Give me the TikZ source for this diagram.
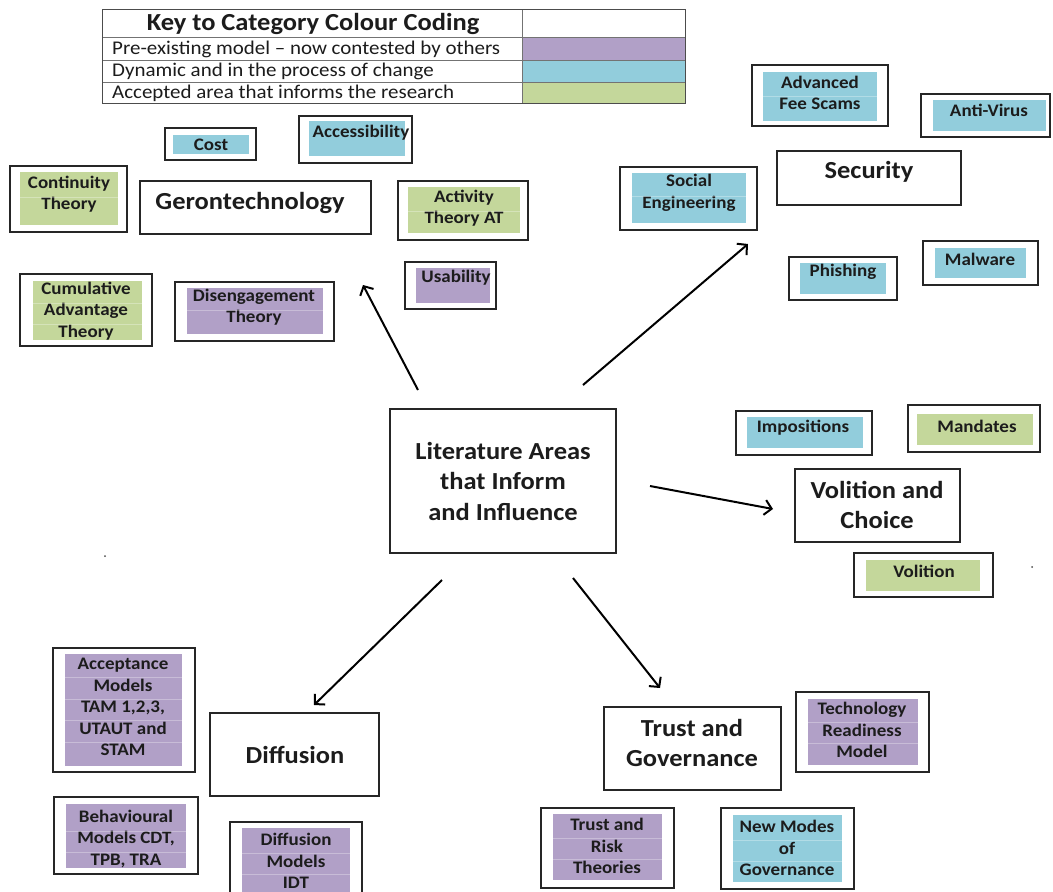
\documentclass[tikz,border=0pt]{standalone}
\usepackage{fontspec}
\setmainfont{Carlito}[FakeStretch=1.08]
\usetikzlibrary{arrows.meta,fit}

\definecolor{catpurple}{HTML}{B1A0C7}
\definecolor{catblue}{HTML}{92CDDC}
\definecolor{catgreen}{HTML}{C4D79B}
\definecolor{inkdark}{HTML}{1C1C1C}

\tikzset{
  frame/.style={draw=black!85, line width=1.3pt, fill=white, inner sep=0pt},
  cell/.style={draw=none, inner sep=0pt},
  rowsep/.style={draw=white, opacity=0.3, line width=0.8pt},
  smalltxt/.style={font=\bfseries\fontsize{17.6}{21.5}\selectfont, align=center, text=inkdark, inner sep=0pt},
  maintxt/.style={font=\bfseries\fontsize{24.5}{30}\selectfont, align=center, text=inkdark, inner sep=0pt},
  midtxt/.style={font=\bfseries\fontsize{24.5}{30.5}\selectfont, align=center, text=inkdark, inner sep=0pt},
  keyhead/.style={font=\bfseries\fontsize{24.5}{26}\selectfont, text=inkdark, inner sep=0pt},
  keyrow/.style={font=\fontsize{19.4}{21}\selectfont, text=inkdark, inner sep=0pt, anchor=west},
  keyline/.style={draw=black!55, line width=0.8pt},
  link/.style={line width=2pt, -{Straight Barb[length=7pt, width=15pt, line width=2pt]}},
}

% #1 name, #2/#3 frame corners, #4/#5 fill corners, #6 colour, #7 text centre, #8 text
\newcommand\catbox[8]{%
  \node[frame, fit={#2 #3}] (#1) {};
  \node[cell, fill=#6, fit={#4 #5}] (#1-in) {};
  \node[smalltxt] (#1-txt) at #7 {#8};
}
% faint cell rules between the text rows of a category box (offsets below the text centre)
\newcommand\rowseps[2]{%
  \foreach \d in {#2} {%
    \coordinate (#1-sep) at ([yshift={-(\d+3)*1pt}]#1-txt.center);
    \draw[rowsep] (#1-sep -| #1-in.west) -- (#1-sep -| #1-in.east);
  }%
}
% #1 name, #2/#3 corners, #4 style, #5 text centre, #6 text
\newcommand\areabox[6]{%
  \node[frame, fit={#2 #3}] (#1) {};
  \node[#4] (#1-txt) at #5 {#6};
}

\begin{document}
\begin{tikzpicture}[x=1pt, y=-1pt]
\useasboundingbox (0,0) rectangle (1053,892);
\clip (0,0) rectangle (1053,892);
\fill[white] (0,0) rectangle (1053,892);

% ---- colour key table ----
\node[cell, fit={(103,10) (522,37)}] (khead) {};
\node[cell, fill=white, fit={(522,10) (685,37)}] (kheadc) {};
\node[cell, fit={(103,37) (522,60)}] (k1) {};
\node[cell, fill=catpurple, fit={(522,37) (685,60)}] (k1c) {};
\node[cell, fit={(103,60) (522,82)}] (k2) {};
\node[cell, fill=catblue, fit={(522,60) (685,82)}] (k2c) {};
\node[cell, fit={(103,82) (522,103)}] (k3) {};
\node[cell, fill=catgreen, fit={(522,82) (685,103)}] (k3c) {};
\draw[keyline] (khead.south west) -- (kheadc.south east);
\draw[keyline] (k1.south west) -- (k1c.south east);
\draw[keyline] (k2.south west) -- (k2c.south east);
\draw[keyline] (khead.north east) -- (k3.south east);
\draw[draw=black!70, line width=1pt] (khead.north west) rectangle (k3c.south east);
\node[keyhead] (kheadt) at (313,24) {Key to Category Colour Coding};
\node[keyrow] (k1t) at (112,49) {Pre-existing model -- now contested by others};
\node[keyrow] (k2t) at (112,71) {Dynamic and in the process of change};
\node[keyrow] (k3t) at (112,93) {Accepted area that informs the research};

% ---- central topic ----
\areabox{centre}{(390,409)}{(616,553)}{midtxt}{(503,481)}{Literature Areas\\that Inform\\and Influence}

% ---- Gerontechnology ----
\areabox{geron}{(140,181)}{(371,234)}{maintxt}{(250,203)}{Gerontechnology}
\catbox{cost}{(165,128)}{(256,160)}{(173,135)}{(249,154)}{catblue}{(211,145)}{Cost}
\catbox{access}{(299,116)}{(412,163)}{(309,121)}{(405,156)}{catblue}{(361,133)}{Accessibility}
\catbox{contin}{(10,166)}{(127,232)}{(20,172)}{(118,225)}{catgreen}{(69,194)}{Continuity\\Theory}
\catbox{activ}{(398,181)}{(528,240)}{(408,187)}{(520,233)}{catgreen}{(464,208)}{Activity\\Theory AT}
\catbox{usab}{(405,262)}{(496,309)}{(416,268)}{(490,303)}{catpurple}{(456,278)}{Usability}
\catbox{cumul}{(20,274)}{(152,346)}{(33,281)}{(142,340)}{catgreen}{(86,311)}{Cumulative\\Advantage\\Theory}
\catbox{diseng}{(175,282)}{(334,341)}{(187,288)}{(323,334)}{catpurple}{(254,307)}{Disengagement\\Theory}
\rowseps{contin}{0}
\rowseps{activ}{0}
\rowseps{cumul}{-10.75,10.75}
\rowseps{diseng}{0}

% ---- Security ----
\areabox{secur}{(777,151)}{(961,205)}{maintxt}{(869,172)}{Security}
\catbox{afs}{(752,65)}{(888,126)}{(763,72)}{(877,121)}{catblue}{(820,93)}{Advanced\\Fee Scams}
\catbox{antiv}{(921,94)}{(1050,137)}{(933,100)}{(1046,131)}{catblue}{(989,110)}{Anti-Virus}
\catbox{social}{(620,167)}{(757,230)}{(632,173)}{(746,223)}{catblue}{(689,193)}{Social\\Engineering}
\catbox{phish}{(789,257)}{(897,300)}{(800,263)}{(886,294)}{catblue}{(843,272)}{Phishing}
\catbox{malw}{(923,241)}{(1038,285)}{(935,248)}{(1026,278)}{catblue}{(980,259)}{Malware}
\rowseps{afs}{0}
\rowseps{social}{0}

% ---- Volition and Choice ----
\areabox{volit}{(795,469)}{(960,542)}{midtxt}{(877,505)}{Volition and\\Choice}
\catbox{impos}{(736,411)}{(872,455)}{(747,417)}{(863,448)}{catblue}{(803,428)}{Impositions}
\catbox{mand}{(908,405)}{(1040,452)}{(917,414)}{(1033,445)}{catgreen}{(977,426)}{Mandates}
\catbox{volsub}{(854,553)}{(993,597)}{(866,560)}{(980,591)}{catgreen}{(924,571)}{Volition}

% ---- Diffusion ----
\areabox{diffu}{(210,713)}{(379,796)}{maintxt}{(295,755)}{Diffusion}
\catbox{accept}{(53,648)}{(195,772)}{(65,654)}{(182,766)}{catpurple}{(123,707)}{Acceptance\\Models\\TAM 1,2,3,\\UTAUT and\\STAM}
\catbox{behav}{(54,797)}{(198,874)}{(66,804)}{(186,868)}{catpurple}{(126,839)}{Behavioural\\Models CDT,\\TPB, TRA}
\catbox{diffm}{(230,822)}{(362,900)}{(242,828)}{(350,900)}{catpurple}{(296,861)}{Diffusion\\Models\\IDT}
\rowseps{accept}{-32.25,-10.75,10.75,32.25}
\rowseps{behav}{-10.75,10.75}
\rowseps{diffm}{-10.75,10.75}

% ---- Trust and Governance ----
\areabox{trust}{(604,707)}{(781,790)}{maintxt}{(692,743)}{Trust and\\Governance}
\catbox{techr}{(796,692)}{(929,772)}{(808,699)}{(918,765)}{catpurple}{(862,730)}{Technology\\Readiness\\Model}
\catbox{trisk}{(541,808)}{(674,888)}{(553,814)}{(662,880)}{catpurple}{(607,846)}{Trust and\\Risk\\Theories}
\catbox{newmod}{(721,808)}{(854,889)}{(733,815)}{(842,882)}{catblue}{(787,848)}{New Modes\\of\\Governance}
\rowseps{techr}{-10.75,10.75}
\rowseps{trisk}{-10.75,10.75}
\rowseps{newmod}{-10.75,10.75}

% ---- arrows from the central topic ----
\coordinate (toGeronS) at (418,390);  \coordinate (toGeronE) at (363,285);
\coordinate (toSecurS) at (583,385);  \coordinate (toSecurE) at (748,244);
\coordinate (toVolitS) at (650,486);  \coordinate (toVolitE) at (773,509);
\coordinate (toDiffuS) at (442,580);  \coordinate (toDiffuE) at (314,705);
\coordinate (toTrustS) at (573,578);  \coordinate (toTrustE) at (660,688);
\draw[link] (toGeronS) -- (toGeronE);
\draw[link] (toSecurS) -- (toSecurE);
\draw[link] (toVolitS) -- (toVolitE);
\draw[link] (toDiffuS) -- (toDiffuE);
\draw[link] (toTrustS) -- (toTrustE);

% stray specks
\fill[black!70] (105,556) circle (1);
\fill[black!70] (1032,567) circle (1);
\end{tikzpicture}
\end{document}
